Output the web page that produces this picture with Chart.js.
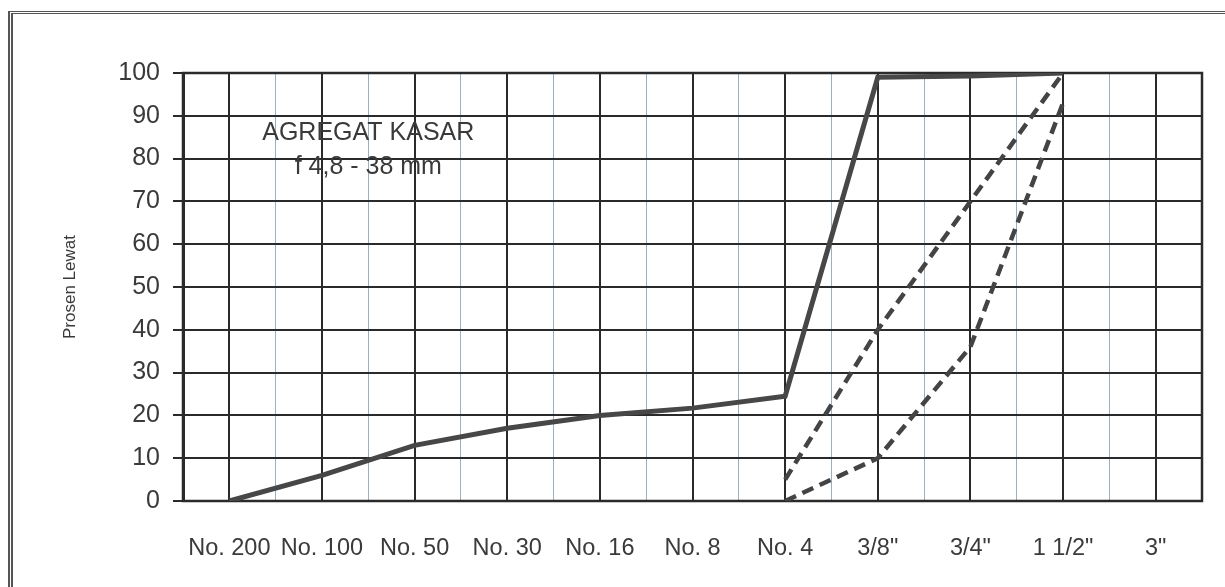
<!DOCTYPE html>
<html>
<head>
<meta charset="utf-8">
<script src="https://cdn.jsdelivr.net/npm/chart.js@4.4.1/dist/chart.umd.min.js"></script>
<style>
  html, body { margin: 0; padding: 0; background: #fff; }
  #wrap { position: relative; width: 1225px; height: 587px; }
  #frame {
    position: absolute; left: 8px; top: 11px; right: -10px; bottom: -10px;
    border-left: 5px double #555; border-top: 3px double #555;
    pointer-events: none;
  }
</style>
</head>
<body>
<div id="wrap">
  <canvas id="chart" width="1225" height="587"></canvas>
  <div id="frame"></div>
</div>
<script>
// ukuran saringan
const saringan = ['No. 200', 'No. 100', 'No. 50', 'No. 30', 'No. 16', 'No. 8', 'No. 4', '3/8"', '3/4"', '1 1/2"', '3"'];
// persen lolos hasil uji
const hasilUji = [0, 6, 13, 17, 20, 21.7, 24.5, 99, 99.3, 100, null];
// batas gradasi agregat kasar 4,8 - 38 mm
const batasAtas = [null, null, null, null, null, null, 5, 40, 70, 100, null];
const batasBawah = [null, null, null, null, null, null, 0, 10, 36, 93, null];
const yTicks = [0, 10, 20, 30, 40, 50, 60, 70, 80, 90, 100];

const font = "'Liberation Sans', Arial, sans-serif";

const annotText = {
  id: 'annotText',
  afterDraw(chart) {
    const { ctx, scales: { x, y } } = chart;
    const cx = (x.getPixelForValue(1) + x.getPixelForValue(2)) / 2;
    ctx.save();
    ctx.fillStyle = '#3a3a3a';
    ctx.font = '25px ' + font;
    ctx.textAlign = 'center';
    ctx.textBaseline = 'middle';
    ctx.fillText('AGREGAT KASAR', cx, y.getPixelForValue(86));
    ctx.fillText('f 4,8 - 38 mm', cx, y.getPixelForValue(78));
    ctx.restore();
  }
};

const areaBorder = {
  id: 'areaBorder',
  beforeDatasetsDraw(chart) {
    const { ctx, chartArea: a } = chart;
    ctx.save();
    ctx.strokeStyle = '#2a2a2a';
    ctx.lineWidth = 2.5;
    ctx.strokeRect(a.left, a.top, a.right - a.left, a.bottom - a.top);
    ctx.restore();
  }
};

new Chart(document.getElementById('chart'), {
  type: 'line',
  data: {
    labels: saringan,
    datasets: [
      { label: 'Hasil', data: hasilUji, borderColor: '#474747', borderWidth: 5, pointRadius: 0, tension: 0 },
      { label: 'Batas atas', data: batasAtas, borderColor: '#444', borderWidth: 4.5, borderDash: [12, 7], pointRadius: 0, tension: 0 },
      { label: 'Batas bawah', data: batasBawah, borderColor: '#444', borderWidth: 4.5, borderDash: [12, 7], pointRadius: 0, tension: 0 }
    ]
  },
  options: {
    responsive: false,
    animation: false,
    devicePixelRatio: 1,
    layout: { padding: { left: 0, top: 73, right: 23, bottom: 0 } },
    plugins: { legend: { display: false }, tooltip: { enabled: false } },
    scales: {
      x: {
        type: 'category',
        offset: true,
        grid: { offset: false, color: '#2a2a2a', lineWidth: 2, drawTicks: false },
        border: { display: false },
        ticks: {
          autoSkip: false, maxRotation: 0, padding: 33,
          color: '#3a3a3a', font: { family: font, size: 23.5 }
        },
        afterFit(s) { s.height = 86; }
      },
      x2: {
        type: 'category',
        position: 'bottom',
        offset: true,
        grid: { offset: true, color: 'rgba(130,155,180,0.8)', lineWidth: 1, drawTicks: false },
        border: { display: false },
        ticks: { display: false },
        afterFit(s) { s.height = 0; }
      },
      y: {
        min: 0, max: 100,
        afterBuildTicks(s) { s.ticks = yTicks.map(v => ({ value: v })); },
        grid: { color: '#2a2a2a', lineWidth: 2, tickLength: 10 },
        border: { display: true, color: '#2a2a2a', width: 3 },
        ticks: { padding: 13, color: '#3a3a3a', font: { family: font, size: 25 } },
        title: {
          display: true, text: 'Prosen Lewat', color: '#3a3a3a',
          font: { family: font, size: 17 }, padding: { top: 60, bottom: 0 }
        },
        afterFit(s) { s.width = 183; }
      }
    }
  },
  plugins: [areaBorder, annotText]
});
</script>
</body>
</html>
